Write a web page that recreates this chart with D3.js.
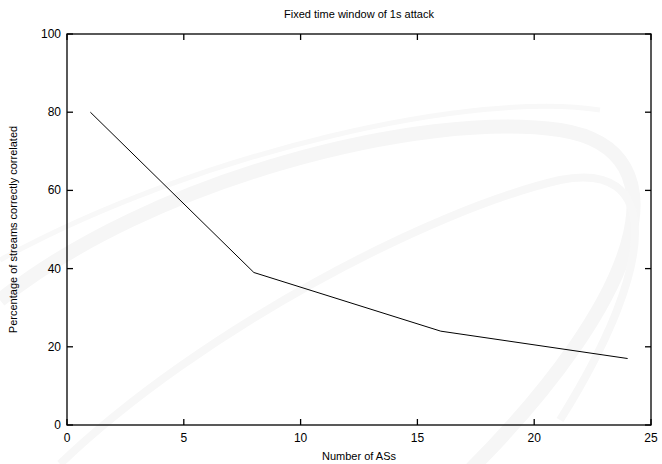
<!DOCTYPE html>
<html><head><meta charset="utf-8">
<script src="https://cdn.jsdelivr.net/npm/d3@7/dist/d3.min.js"></script>
<style>body{margin:0;background:#fff;} text{font-family:"Liberation Sans",Arial,sans-serif;}</style>
</head><body>
<svg id="c" width="662" height="464"></svg>
<script>
const xValues = [1, 8, 16, 24];
const yValues = [80, 39, 24, 17];
const xTicks = [0, 5, 10, 15, 20, 25];
const yTicks = [0, 20, 40, 60, 80, 100];
const title = "Fixed time window of 1s attack";
const xLabel = "Number of ASs";
const yLabel = "Percentage of streams correctly correlated";

const svg = d3.select("#c");
const m = {left: 67, right: 651, top: 34, bottom: 425};
const x = d3.scaleLinear().domain([0, 25]).range([m.left, m.right]);
const y = d3.scaleLinear().domain([0, 100]).range([m.bottom, m.top]);

// faint decorative watermark swoosh
const wm = svg.append("g").attr("fill", "none").attr("stroke", "#f6f6f6");
wm.append("path").attr("d", "M0,300 C150,180 420,110 560,130 C690,150 640,300 470,470").attr("stroke-width", 14);
wm.append("path").attr("d", "M60,464 C200,330 430,210 560,180 C660,160 660,260 560,420").attr("stroke-width", 8).attr("stroke", "#f7f7f7");
wm.append("path").attr("d", "M0,260 C200,150 480,90 600,110").attr("stroke-width", 5).attr("stroke", "#f8f8f8");

// border
svg.append("rect").attr("x", m.left).attr("y", m.top).attr("width", m.right - m.left).attr("height", m.bottom - m.top)
  .attr("fill", "none").attr("stroke", "#000").attr("stroke-width", 1.3);

const tl = 6;
const tg = svg.append("g").attr("stroke", "#000").attr("stroke-width", 1.3);
xTicks.forEach(t => {
  tg.append("line").attr("x1", x(t)).attr("x2", x(t)).attr("y1", m.bottom).attr("y2", m.bottom - tl);
  tg.append("line").attr("x1", x(t)).attr("x2", x(t)).attr("y1", m.top).attr("y2", m.top + tl);
});
yTicks.forEach(t => {
  tg.append("line").attr("y1", y(t)).attr("y2", y(t)).attr("x1", m.left).attr("x2", m.left + tl);
  tg.append("line").attr("y1", y(t)).attr("y2", y(t)).attr("x1", m.right).attr("x2", m.right - tl);
});

svg.append("g").selectAll("text").data(xTicks).join("text")
  .attr("x", d => x(d)).attr("y", 442).attr("text-anchor", "middle").attr("font-size", 12).text(d => d);
svg.append("g").selectAll("text").data(yTicks).join("text")
  .attr("x", 61).attr("y", d => y(d) + 4).attr("text-anchor", "end").attr("font-size", 12).text(d => d);

svg.append("text").attr("x", (m.left + m.right) / 2).attr("y", 18).attr("text-anchor", "middle").attr("font-size", 11).text(title);
svg.append("text").attr("x", (m.left + m.right) / 2).attr("y", 460).attr("text-anchor", "middle").attr("font-size", 11).text(xLabel);
svg.append("text").attr("transform", `translate(17,${(m.top + m.bottom) / 2}) rotate(-90)`).attr("text-anchor", "middle").attr("font-size", 11).text(yLabel);

const line = d3.line().x(d => x(d[0])).y(d => y(d[1]));
svg.append("path").datum(xValues.map((v, i) => [v, yValues[i]]))
  .attr("d", line).attr("fill", "none").attr("stroke", "#000").attr("stroke-width", 1);
</script>
</body></html>
